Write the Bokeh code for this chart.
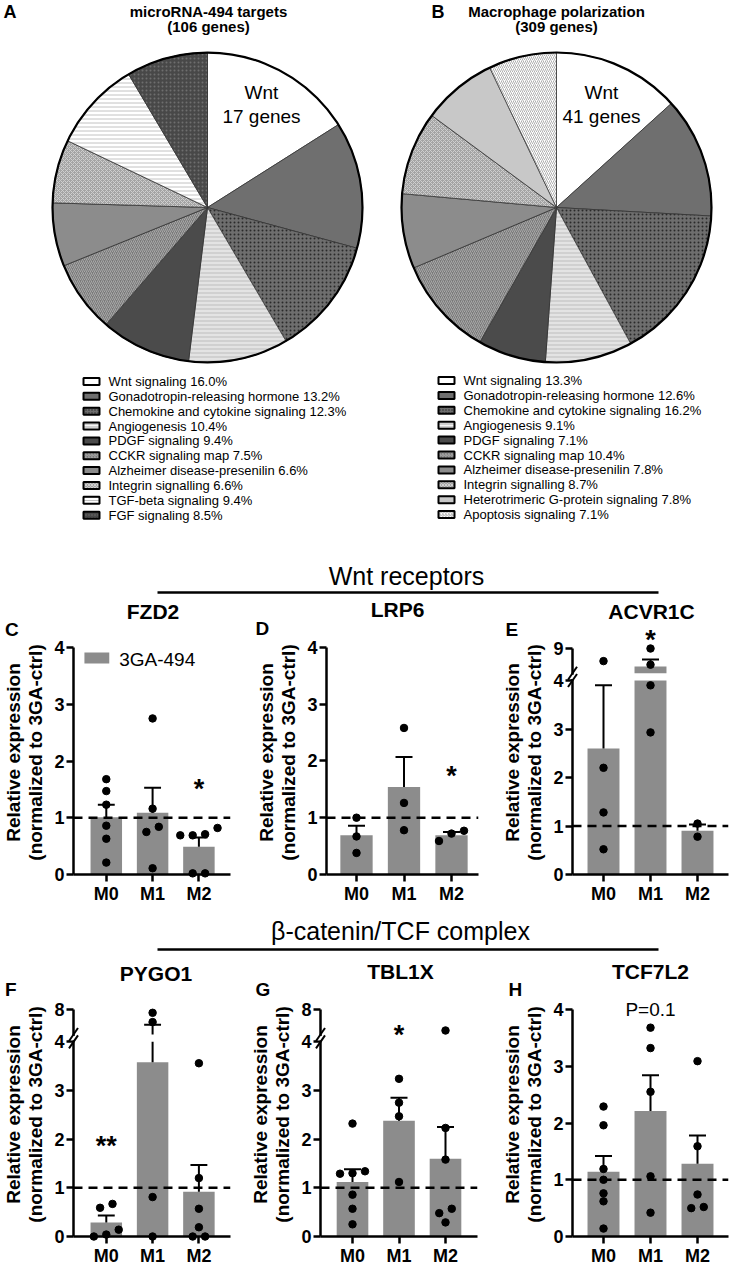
import math
from bokeh.plotting import figure
from bokeh.layouts import column, row
from bokeh.models import Range1d, FixedTicker, ColumnDataSource
from bokeh.core.properties import value
from bokeh.embed import file_html
from bokeh.resources import INLINE

FONT = "Liberation Sans"

# ---------------- data: pie charts ----------------
pie_a_title = ["microRNA-494 targets", "(106 genes)"]
pie_a_names = ["Wnt signaling", "Gonadotropin-releasing hormone",
               "Chemokine and cytokine signaling", "Angiogenesis",
               "PDGF signaling", "CCKR signaling map",
               "Alzheimer disease-presenilin", "Integrin signalling",
               "TGF-beta signaling", "FGF signaling"]
pie_a_pct = [16.0, 13.2, 12.3, 10.4, 9.4, 7.5, 6.6, 6.6, 9.4, 8.5]
pie_a_inner = ["Wnt", "17 genes"]

pie_b_title = ["Macrophage polarization", "(309 genes)"]
pie_b_names = ["Wnt signaling", "Gonadotropin-releasing hormone",
               "Chemokine and cytokine signaling", "Angiogenesis",
               "PDGF signaling", "CCKR signaling map",
               "Alzheimer disease-presenilin", "Integrin signalling",
               "Heterotrimeric G-protein signaling", "Apoptosis signaling"]
pie_b_pct = [13.3, 12.6, 16.2, 9.1, 7.1, 10.4, 7.8, 8.7, 7.8, 7.1]
pie_b_inner = ["Wnt", "41 genes"]

# ---------------- data: bar panels ----------------
categories = ["M0", "M1", "M2"]
legend_label = "3GA-494"
y_label = "Relative expression\n(normalized to 3GA-ctrl)"
header_1 = "Wnt receptors"
header_2 = "β-catenin/TCF complex"

fzd2_points = [[1.68, 1.47, 1.23, 0.86, 0.63, 0.21], [2.75, 1.16, 0.84, 0.75, 0.11],
               [0.82, 0.71, 0.69, 0.69, 0.02, 0.02]]
fzd2_mean = [1.01, 1.09, 0.49]
fzd2_err = [1.23, 1.53, 0.65]
fzd2_sig = ["", "", "*"]

lrp6_points = [[1.00, 0.67, 0.38], [2.58, 1.26, 0.78], [0.77, 0.72, 0.59]]
lrp6_mean = [0.69, 1.54, 0.69]
lrp6_err = [0.86, 2.07, 0.75]
lrp6_sig = ["", "", "*"]

acvr1c_points = [[6.4, 2.2, 1.28, 0.52], [8.9, 5.7, 3.9, 2.93], [1.05, 0.78]]
acvr1c_mean = [2.6, 5.35, 0.9]
acvr1c_err = [3.9, 6.7, 1.03]
acvr1c_sig = ["", "*", ""]
acvr1c_axis_top = 9

pygo1_points = [[0.67, 0.59, 0.14, 0.0, 0.04], [7.5, 6.0, 0.81, 0.0],
                [3.56, 1.2, 0.57, 0.19, 0.0, 0.0]]
pygo1_mean = [0.29, 3.58, 0.92]
pygo1_err = [0.43, 5.57, 1.47]
pygo1_sig = ["**", "", ""]
pygo1_axis_top = 8

tbl1x_points = [[2.32, 1.34, 1.30, 1.29, 0.86, 0.57, 0.25], [3.24, 2.75, 2.47, 1.12],
                [4.65, 2.23, 1.58, 0.57, 0.48, 0.29]]
tbl1x_mean = [1.12, 2.38, 1.60]
tbl1x_err = [1.38, 2.85, 2.25]
tbl1x_sig = ["", "*", ""]
tbl1x_axis_top = 8

tcf7l2_points = [[2.29, 1.96, 1.19, 1.00, 0.76, 0.62, 0.14], [3.68, 3.32, 2.55, 1.06, 0.42],
                 [3.09, 1.59, 0.74, 0.50, 0.52]]
tcf7l2_mean = [1.14, 2.21, 1.28]
tcf7l2_err = [1.42, 2.84, 1.78]
tcf7l2_sig = ["", "P=0.1", ""]

# ---------------- styles ----------------
STYLE = {
    "Wnt signaling": ("white", " ", "white"),
    "Gonadotropin-releasing hormone": ("#6f6f6f", " ", "white"),
    "Chemokine and cytokine signaling": ("#6e6e6e", "dot", "#2a2a2a"),
    "Angiogenesis": ("#d0d0d0", "horizontal_line", "#f6f6f6"),
    "PDGF signaling": ("#4b4b4b", " ", "white"),
    "CCKR signaling map": ("#7a7a7a", "right_diagonal_line", "#a8a8a8"),
    "Alzheimer disease-presenilin": ("#8c8c8c", " ", "white"),
    "Integrin signalling": ("#a4a4a4", "diagonal_cross", "#cfcfcf"),
    "TGF-beta signaling": ("white", "horizontal_line", "#c2c2c2"),
    "FGF signaling": ("#484848", "dot", "#6e6e6e"),
    "Heterotrimeric G-protein signaling": ("#c8c8c8", " ", "white"),
    "Apoptosis signaling": ("white", "right_diagonal_line", "#b0b0b0"),
}
BAR = "#8c8c8c"
PAGE_W = 733

# ---------------- top figure: pies ----------------
TOP_H = 598
top = figure(width=PAGE_W, height=TOP_H, x_range=Range1d(0, PAGE_W), y_range=Range1d(0, TOP_H),
             x_axis_type=None, y_axis_type=None, output_backend="svg",
             toolbar_location=None, min_border=0)
top.outline_line_color = None


def fy(ry):
    return TOP_H - ry


def ttext(fig, xs, ys, texts, size, bold=False, align="center"):
    fig.text(x=xs, y=ys, text=texts, text_font=value(FONT), text_font_size=size,
             text_font_style="bold" if bold else "normal", text_align=align,
             text_baseline="middle", text_color="black")


def draw_pie(cx, cy, r, names, pct):
    tot = sum(pct)
    cum = 0.0
    starts, ends = [], []
    for v in pct:
        a0 = math.pi / 2 - 2 * math.pi * cum / tot
        cum += v
        a1 = math.pi / 2 - 2 * math.pi * cum / tot
        starts.append(a1)
        ends.append(a0)
    src = ColumnDataSource(dict(start=starts, end=ends,
                                fill=[STYLE[n][0] for n in names],
                                hatch=[STYLE[n][1] for n in names],
                                hcol=[STYLE[n][2] for n in names]))
    top.wedge(x=cx, y=fy(cy), radius=r, start_angle="start", end_angle="end",
              fill_color="fill", hatch_pattern="hatch", hatch_color="hcol",
              hatch_scale=4, hatch_weight=1, line_color="#333333", line_width=0.8, source=src)
    top.circle(x=[cx], y=[fy(cy)], radius=r, fill_color=None, line_color="black", line_width=2.2)


def draw_legend(box_cx, text_x, y0, step, names, pct):
    ys = [fy(y0 + i * step) for i in range(len(names))]
    src = ColumnDataSource(dict(y=ys, fill=[STYLE[n][0] for n in names],
                                hatch=[STYLE[n][1] for n in names],
                                hcol=[STYLE[n][2] for n in names],
                                txt=[f"{n} {v:.1f}%" for n, v in zip(names, pct)]))
    top.rect(x=box_cx, y="y", width=16, height=7, fill_color="fill", hatch_pattern="hatch",
             hatch_color="hcol", hatch_scale=3, hatch_weight=1, line_color="black", line_width=2,
             source=src)
    top.text(x=text_x, y="y", text="txt", text_font=value(FONT), text_font_size="13px",
             text_align="left", text_baseline="middle", text_color="black", source=src)


draw_pie(207, 207, 155, pie_a_names, pie_a_pct)
draw_pie(556, 207, 155, pie_b_names, pie_b_pct)
draw_legend(91, 108, 381, 14.85, pie_a_names, pie_a_pct)
draw_legend(446, 463, 380, 14.9, pie_b_names, pie_b_pct)

ttext(top, [261, 261], [fy(91.5), fy(116)], pie_a_inner, "19px")
ttext(top, [601, 601], [fy(91.5), fy(116)], pie_b_inner, "19px")
ttext(top, [208, 208], [fy(10.5), fy(26)], pie_a_title, "15px", bold=True)
ttext(top, [556, 556], [fy(10.5), fy(26)], pie_b_title, "15px", bold=True)
ttext(top, [3, 431], [fy(11.5), fy(11.5)], ["A", "B"], "18px", bold=True, align="left")
ttext(top, [406], [fy(575.5)], [header_1], "25px")
top.segment(x0=[157], y0=[fy(592)], x1=[658], y1=[fy(592)], line_color="black", line_width=2.5)

# ---------------- header 2 ----------------
H2 = 46
H2_TOP = 910
head2 = figure(width=PAGE_W, height=H2, x_range=Range1d(0, PAGE_W), y_range=Range1d(0, H2),
               x_axis_type=None, y_axis_type=None, output_backend="svg",
               toolbar_location=None, min_border=0)
head2.outline_line_color = None
ttext(head2, [400], [H2 - (930.5 - H2_TOP)], [header_2], "25px")
head2.segment(x0=[157], y0=[H2 - (949 - H2_TOP)], x1=[658], y1=[H2 - (949 - H2_TOP)],
              line_color="black", line_width=2.5)

# ---------------- bar panels ----------------
ROW1 = dict(fig_h=312, top_b=32, bot_b=36, y0=874)
ROW2 = dict(fig_h=312, top_b=36, bot_b=32, y0=1236)

GEO_C = dict(origin_x=0, fig_w=240, axis_x=72, frame_right=230, cat0=105, spacing=46.6, ppu=56.75,
             letter=(3, 628.5), title=(152, 610.5), sig_y=781)
GEO_D = dict(origin_x=240, fig_w=240, axis_x=326, frame_right=478, cat0=356, spacing=47.5, ppu=56.8,
             letter=(255, 628), title=(397, 609), sig_y=768)
GEO_E = dict(origin_x=480, fig_w=253, axis_x=572, frame_right=728, cat0=603, spacing=47, ppu=48.5,
             letter=(505, 629), title=(651, 610.5), sig_y=632)
GEO_F = dict(origin_x=0, fig_w=240, axis_x=72, frame_right=230, cat0=105, spacing=46.6, ppu=48.67,
             letter=(3, 989), title=(155, 972.5), sig_y=1138)
GEO_G = dict(origin_x=240, fig_w=240, axis_x=320, frame_right=477, cat0=352, spacing=46.5, ppu=48.67,
             letter=(255, 989), title=(400, 970.5), sig_y=1027)
GEO_H = dict(origin_x=480, fig_w=253, axis_x=572, frame_right=728, cat0=603, spacing=47, ppu=56.75,
             letter=(508, 989), title=(650, 970.5), sig_y=1008.5)


def tr_factory(brk):
    def tr(v):
        if brk is None or v <= 4:
            return v
        return brk["start"] + (v - 4) * brk["k"]
    return tr


def swarm(vals, ppu, sp, diam=7.5, step=12.5):
    idx = sorted(range(len(vals)), key=lambda j: vals[j])
    offs = [0.0] * len(vals)
    groups, cur = [], [idx[0]]
    for j in idx[1:]:
        if (vals[j] - vals[cur[-1]]) * ppu < diam:
            cur.append(j)
        else:
            groups.append(cur)
            cur = [j]
    groups.append(cur)
    for grp in groups:
        n = len(grp)
        for r, j in enumerate(grp):
            offs[j] = (r - (n - 1) / 2) * step / sp
    return offs


def make_panel(geo, rowg, letter, gene, pts, mean, err, sig, brk=None, legend=False):
    sp, ppu = geo["spacing"], geo["ppu"]
    left_b = geo["axis_x"] - geo["origin_x"]
    frame_w = geo["frame_right"] - geo["axis_x"]
    right_b = geo["fig_w"] - left_b - frame_w
    frame_h = rowg["fig_h"] - rowg["top_b"] - rowg["bot_b"]
    xs = -(geo["cat0"] - geo["axis_x"]) / sp
    xe = xs + frame_w / sp
    ye = frame_h / ppu
    tr = tr_factory(brk)

    def dx(rx):
        return xs + (rx - geo["axis_x"]) / sp

    def dy(ry):
        return (rowg["y0"] - ry) / ppu

    p = figure(width=geo["fig_w"], height=rowg["fig_h"], x_range=Range1d(xs, xe),
               y_range=Range1d(0, ye), output_backend="svg", toolbar_location=None,
               min_border_left=left_b, min_border_right=right_b,
               min_border_top=rowg["top_b"], min_border_bottom=rowg["bot_b"])
    p.grid.visible = False
    p.outline_line_color = None

    def txt(x, y, s, size, bold=False, align="center"):
        p.text(x=[x], y=[y], text=[s], text_font=value(FONT), text_font_size=size,
               text_font_style="bold" if bold else "normal", text_align=align,
               text_baseline="middle", text_color="black", level="overlay")

    yt = [0, 1, 2, 3, 4]
    overrides = {}
    if brk is not None:
        t = tr(brk["top"])
        yt.append(t)
        overrides[t] = str(brk["top"])
    p.yaxis.ticker = FixedTicker(ticks=yt)
    p.yaxis.major_label_overrides = overrides
    p.yaxis.bounds = (0, yt[-1])
    p.xaxis.ticker = FixedTicker(ticks=list(range(len(categories))))
    p.xaxis.major_label_overrides = {i: c for i, c in enumerate(categories)}
    for ax in (p.xaxis[0], p.yaxis[0]):
        ax.axis_line_width = 2.5
        ax.axis_line_color = "black"
        ax.major_tick_line_width = 2.5
        ax.major_tick_line_color = "black"
        ax.major_tick_out = 7
        ax.major_tick_in = 0
        ax.minor_tick_line_color = None
        ax.major_label_text_font = FONT
        ax.major_label_text_font_style = "bold"
        ax.major_label_text_color = "black"
        ax.major_label_standoff = 2
    p.yaxis.major_label_text_font_size = "18px"
    p.xaxis.major_label_text_font_size = "18px"
    p.yaxis.axis_label = y_label
    p.yaxis.axis_label_text_font = FONT
    p.yaxis.axis_label_text_font_style = "bold"
    p.yaxis.axis_label_text_font_size = "19px"
    p.yaxis.axis_label_text_line_height = 1.05
    p.yaxis.axis_label_text_color = "black"
    p.yaxis.axis_label_standoff = 5

    xc = list(range(len(categories)))
    p.vbar(x=xc, top=[tr(m) for m in mean], width=0.68, fill_color=BAR, line_color=None)
    p.segment(x0=[xs], y0=[1], x1=[xe], y1=[1], line_color="black", line_width=2.5, line_dash="9 6")
    cap = 8.5 / sp
    p.segment(x0=xc, y0=[tr(m) for m in mean], x1=xc, y1=[tr(e) for e in err],
              line_color="black", line_width=2)
    p.segment(x0=[i - cap for i in xc], y0=[tr(e) for e in err], x1=[i + cap for i in xc],
              y1=[tr(e) for e in err], line_color="black", line_width=2)
    if brk is not None:
        p.quad(left=[xs], right=[xe], bottom=[4.0], top=[brk["start"]], fill_color="white",
               line_color=None)
        # axis break: white gap on the axis line plus two slanted marks
        p.segment(x0=[xs], y0=[4.0 + 1.5 / ppu], x1=[xs], y1=[brk["start"] - 1.5 / ppu],
                  line_color="white", line_width=6, level="overlay")
        hx, hy = 4.5 / sp, 6.5 / ppu
        p.segment(x0=[xs - hx, xs - hx], y0=[4.0 - hy, brk["start"] - hy],
                  x1=[xs + hx, xs + hx], y1=[4.0 + hy, brk["start"] + hy],
                  line_color="black", line_width=2, level="overlay")
    px, py = [], []
    for i, vals in enumerate(pts):
        vv = [tr(v) for v in vals]
        offs = swarm(vv, ppu, sp)
        px += [i + o for o in offs]
        py += vv
    p.scatter(px, py, size=7.5, color="black", level="overlay")

    lx = max(geo["letter"][0], geo["origin_x"] + 1)
    txt(dx(lx), dy(geo["letter"][1]), letter, "19px", bold=True, align="left")
    txt(dx(geo["title"][0]), dy(geo["title"][1]), gene, "21px", bold=True)
    for i, s in enumerate(sig):
        if not s:
            continue
        star = "*" in s
        fs = 27 if star else 19
        mid = geo["sig_y"] + (0.26 * fs if star else 0)
        txt(i, dy(mid), s, f"{fs}px", bold=star)
    if legend:
        p.rect(x=[dx(95.5)], y=[dy(657.5)], width=25 / sp, height=11 / ppu, fill_color=BAR,
               line_color=None)
        txt(dx(118), dy(659), legend_label, "19px", align="left")
    return p


BRK_E = dict(top=acvr1c_axis_top, start=4.15, k=0.104)
BRK_F = dict(top=pygo1_axis_top, start=4.15, k=0.1275)
BRK_G = dict(top=tbl1x_axis_top, start=4.15, k=0.1275)

pC = make_panel(GEO_C, ROW1, "C", "FZD2", fzd2_points, fzd2_mean, fzd2_err, fzd2_sig, legend=True)
pD = make_panel(GEO_D, ROW1, "D", "LRP6", lrp6_points, lrp6_mean, lrp6_err, lrp6_sig)
pE = make_panel(GEO_E, ROW1, "E", "ACVR1C", acvr1c_points, acvr1c_mean, acvr1c_err, acvr1c_sig, brk=BRK_E)
pF = make_panel(GEO_F, ROW2, "F", "PYGO1", pygo1_points, pygo1_mean, pygo1_err, pygo1_sig, brk=BRK_F)
pG = make_panel(GEO_G, ROW2, "G", "TBL1X", tbl1x_points, tbl1x_mean, tbl1x_err, tbl1x_sig, brk=BRK_G)
pH = make_panel(GEO_H, ROW2, "H", "TCF7L2", tcf7l2_points, tcf7l2_mean, tcf7l2_err, tcf7l2_sig)

layout = column(top, row(pC, pD, pE), head2, row(pF, pG, pH))
open("out.html", "w").write(file_html(layout, INLINE))
